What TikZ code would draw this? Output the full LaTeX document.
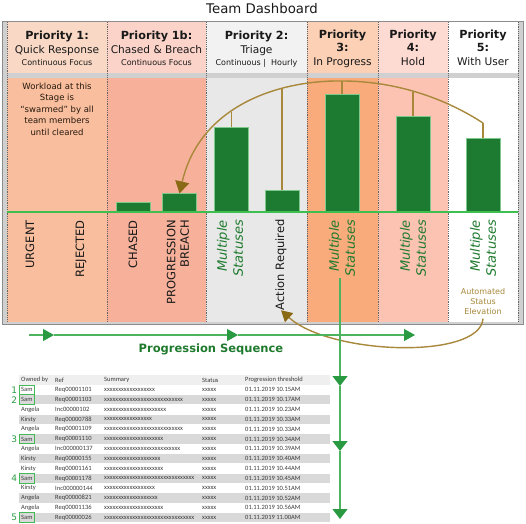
\documentclass[tikz,border=0pt]{standalone}
\usepackage{fontspec}
\setmainfont{DejaVu Sans}
\newfontfamily\tblfont{Carlito}
\usetikzlibrary{positioning,arrows.meta}
\definecolor{hdA}{HTML}{F9D9C5}
\definecolor{hdB}{HTML}{FCD3C9}
\definecolor{hdC}{HTML}{F2F2F2}
\definecolor{hdD}{HTML}{FBD0B5}
\definecolor{hdE}{HTML}{FDDAD2}
\definecolor{bdA}{HTML}{F8BE9E}
\definecolor{bdB}{HTML}{F7B09A}
\definecolor{bdC}{HTML}{E8E8E8}
\definecolor{bdD}{HTML}{F9AB7C}
\definecolor{bdE}{HTML}{FDC3B2}
\definecolor{framegray}{HTML}{D0D0D0}
\definecolor{frameline}{HTML}{8C8C8C}
\definecolor{bargreen}{HTML}{1C7A31}
\definecolor{barline}{HTML}{7DC88A}
\definecolor{basegreen}{HTML}{3FBF4F}
\definecolor{labgreen}{HTML}{1F7A2E}
\definecolor{gold}{HTML}{A8883A}
\definecolor{goldtip}{HTML}{8A6A15}
\definecolor{proggreen}{HTML}{4DB35E}
\definecolor{tipgreen}{HTML}{2A9A42}
\definecolor{rowgray}{HTML}{D9D9D9}
\definecolor{hdgray}{HTML}{EFEFEF}
\definecolor{tabtext}{HTML}{3A3A3A}
\definecolor{samgreen}{HTML}{46B957}

\begin{document}
\begin{tikzpicture}[x=1pt, y=-1pt, font=\fontsize{10.6}{12}\selectfont, text=black!90,
  hdbold/.style={anchor=base, inner sep=0pt, font=\fontsize{11.2}{13}\selectfont\bfseries},
  hdtext/.style={anchor=base, inner sep=0pt},
  hdsmall/.style={anchor=base, inner sep=0pt, font=\fontsize{8}{9}\selectfont},
  bar/.style={draw=barline, fill=bargreen, line width=0.6pt, minimum width=34pt, anchor=south, inner sep=0pt},
  lab/.style={rotate=90, anchor=east, inner sep=0pt, align=right, font=\fontsize{11.5}{13.5}\selectfont},
  multi/.style={lab, text=labgreen, font=\fontsize{13}{16}\selectfont\itshape},
  drop/.style={draw=gold, line width=1.4pt},
  prog/.style={draw=proggreen, line width=1.2pt, -{Triangle[width=12pt,length=11pt,color=tipgreen]}},
  cell/.style={anchor=west, inner xsep=2pt, inner ysep=0pt, minimum height=9.4pt, text=tabtext, font=\tblfont\fontsize{6.5}{7}\selectfont},
  num/.style={inner sep=0pt, text=tipgreen, font=\fontsize{9}{10}\selectfont}]
\useasboundingbox (0,0) rectangle (526,523);
% x, y in pixels of the dashboard, y going down
\node[font=\fontsize{13.3}{16}\selectfont] (title) at (262,9) {Team Dashboard};
\draw[fill=framegray, draw=frameline, line width=1pt] (2,21) rectangle (523,324);
\foreach \a/\b/\hc/\bc in {7/107/hdA/bdA, 107/206/hdB/bdB, 206/307/hdC/bdC, 307/378/hdD/bdD, 378/448/hdE/bdE, 448/518/white/white}
  { \fill[\hc] (\a,22) rectangle (\b,73); \fill[\bc] (\a,78) rectangle (\b,322); }
\foreach \x in {7,107,206,307,378,448,518} \draw[black!60, line width=0.9pt, dash pattern=on 1.2pt off 1pt] (\x,22) -- (\x,322);
% column heads
\foreach \x/\n/\a/\b/\c in {57/h1/Priority 1:/Quick Response/Continuous Focus, 156.5/h1b/Priority 1b:/Chased \& Breach/Continuous Focus, 256.5/h2/Priority 2:/Triage/Continuous |\ \ Hourly}
  { \node[hdbold] (\n-t) at (\x,39) {\a}; \node[hdtext] (\n-s) at (\x,53) {\b}; \node[hdsmall] (\n-f) at (\x,65) {\c}; }
\foreach \x/\n/\d/\c in {342.5/h3/3:/In Progress, 413/h4/4:/Hold, 483/h5/5:/With User}
  { \node[hdbold] (\n-t) at (\x,38) {Priority}; \node[hdbold] (\n-s) at (\x,51.5) {\d}; \node[hdtext] (\n-f) at (\x,65) {\c}; }
\node[align=center, text=black!80!brown, font=\fontsize{8.5}{11.5}\selectfont] (swarm) at (57,109) {Workload at this\\Stage is\\“swarmed” by all\\team members\\until cleared};
% bars and the base line
\foreach \n/\x/\h in {bC/133.5/9, bB/179.5/18, bM/231.5/84, bA/282/21, b3/342/117, b4/413/95, b5/483/73}
  \node[bar, minimum height=\h pt] (\n) at (\x,212) {};
\draw[basegreen, line width=1.6pt] (7,212) -- (518,212);
\coordinate (aM) at (231.5,112); \coordinate (aA) at (282,88); \coordinate (a3) at (342,81); \coordinate (a4) at (413,92); \coordinate (a5) at (483,123);
\foreach \n/\a in {bM/aM, bA/aA, b3/a3, b4/a4, b5/a5} \draw[drop] (\n.north) -- (\a);
\draw[drop, -{Triangle[width=14pt,length=12pt,color=goldtip]}] (a5) .. controls (440,95) and (390,81) .. (a3) .. controls (280,80) and (200,105) .. (bB.north);
% status labels
\node[lab] (urg) at (30,220) {URGENT};
\node[lab] (rej) at (81,220) {REJECTED};
\node[lab] (chs) at (133,220) {CHASED};
\node[lab] (brc) at (178,220) {PROGRESSION\\BREACH};
\node[lab] (act) at (281,219) {Action Required};
\foreach \n/\x in {m2/230, m3/342, m4/413, m5/483} \node[multi] (\n) at (\x,220) {Multiple\\Statuses};
\node[align=center, text=gold, font=\fontsize{8}{10}\selectfont] (elev) at (483,302) {Automated\\Status\\Elevation};
\draw[drop, -{Triangle[width=12pt,length=11pt,color=goldtip]}] (elev.south) .. controls (480,360) and (330,355) .. (act.west);
% progression sequence
\coordinate (s0) at (29,335); \coordinate (s1) at (54,335); \coordinate (s2) at (238,335); \coordinate (s3) at (415,335);
\draw[prog] (s0) -- (s1); \draw[prog] (s1) -- (s2); \draw[prog] (s2) -- (s3);
\node[text=labgreen, font=\fontsize{11.5}{13}\selectfont\bfseries] (seq) at (211,349) {Progression Sequence};
% table
\fill[hdgray] (19,375.2) rectangle (330,384.8);
\foreach \n/\t/\x in {c1/Owned by/19, c2/Ref/53, c3/Summary/102, c4/Status/200, c5/Progression threshold/243} \node[cell] (\n) at (\x,380) {\t};
\foreach \i/\who/\rno/\summ/\thr in {1/Sam/Req00001101/xxxxxxxxxxxxxxxxxx/10.15AM, 2/Sam/Req00001103/xxxxxxxxxxxxxxxxxxxxxxxxxxxx/10.17AM, 3/Angela/Inc00000102/xxxxxxxxxxxxxxxxxxxxxx/10.23AM, 4/Kirsty/Req00000788/xxxxxxxxxxxxxxxxx/10.33AM, 5/Angela/Req00001109/xxxxxxxxxxxxxxxxxxxxxxxxxxxx/10.33AM, 6/Sam/Req00001110/xxxxxxxxxxxxxxxxxxxxx/10.34AM, 7/Angela/Inc000000137/xxxxxxxxxxxxxxxxxxxxxxxxxxx/10.39AM, 8/Kirsty/Req00000155/xxxxxxxxxxxxxxxxxxxx/10.40AM, 9/Kirsty/Req00001161/xxxxxxxxxxxxxxxxxxxxx/10.44AM, 10/Sam/Req00001178/xxxxxxxxxxxxxxxxxxxxxxxxxxxxxxxx/10.45AM, 11/Kirsty/Inc000000144/xxxxxxxxxxxxxxxxxx/10.51AM, 12/Angela/Req00000821/xxxxxxxxxxxxxxxxxxx/10.52AM, 13/Angela/Req00001136/xxxxxxxxxxxxxxxxxxxxx/10.56AM, 14/Sam/Req00000026/xxxxxxxxxxxxxxxxxxxxxxxxxxxxxxxx/11.00AM}
  { \pgfmathsetmacro\ry{380+9.83*\i}
    \ifodd\i\else \fill[rowgray] (19,\ry-4.8) rectangle (330,\ry+4.8); \fi
    \node[cell] (own\i) at (19,\ry) {\who}; \node[cell] (ref\i) at (53,\ry) {\rno}; \node[cell] (sum\i) at (102,\ry) {\summ};
    \node[cell] (st\i) at (200,\ry) {xxxxx}; \node[cell] (thr\i) at (243,\ry) {01.11.2019 \thr}; }
\foreach \n/\i in {1/1, 2/2, 3/6, 4/10, 5/14}
  { \draw[samgreen, line width=0.8pt] (own\i.south west) rectangle (own\i.north east); \node[num, left=1.8pt of own\i] (k\n) {\n}; }
% down the list
\coordinate (v0) at (340,278); \coordinate (v1) at (340,386); \coordinate (v2) at (340,451); \coordinate (v3) at (340,519);
\draw[prog, -{Triangle[width=15pt,length=10pt,color=tipgreen]}] (v0) -- (v1);
\draw[prog, -{Triangle[width=15pt,length=10pt,color=tipgreen]}] (v1) -- (v2);
\draw[prog, -{Triangle[width=15pt,length=10pt,color=tipgreen]}] (v2) -- (v3);
\end{tikzpicture}
\end{document}
